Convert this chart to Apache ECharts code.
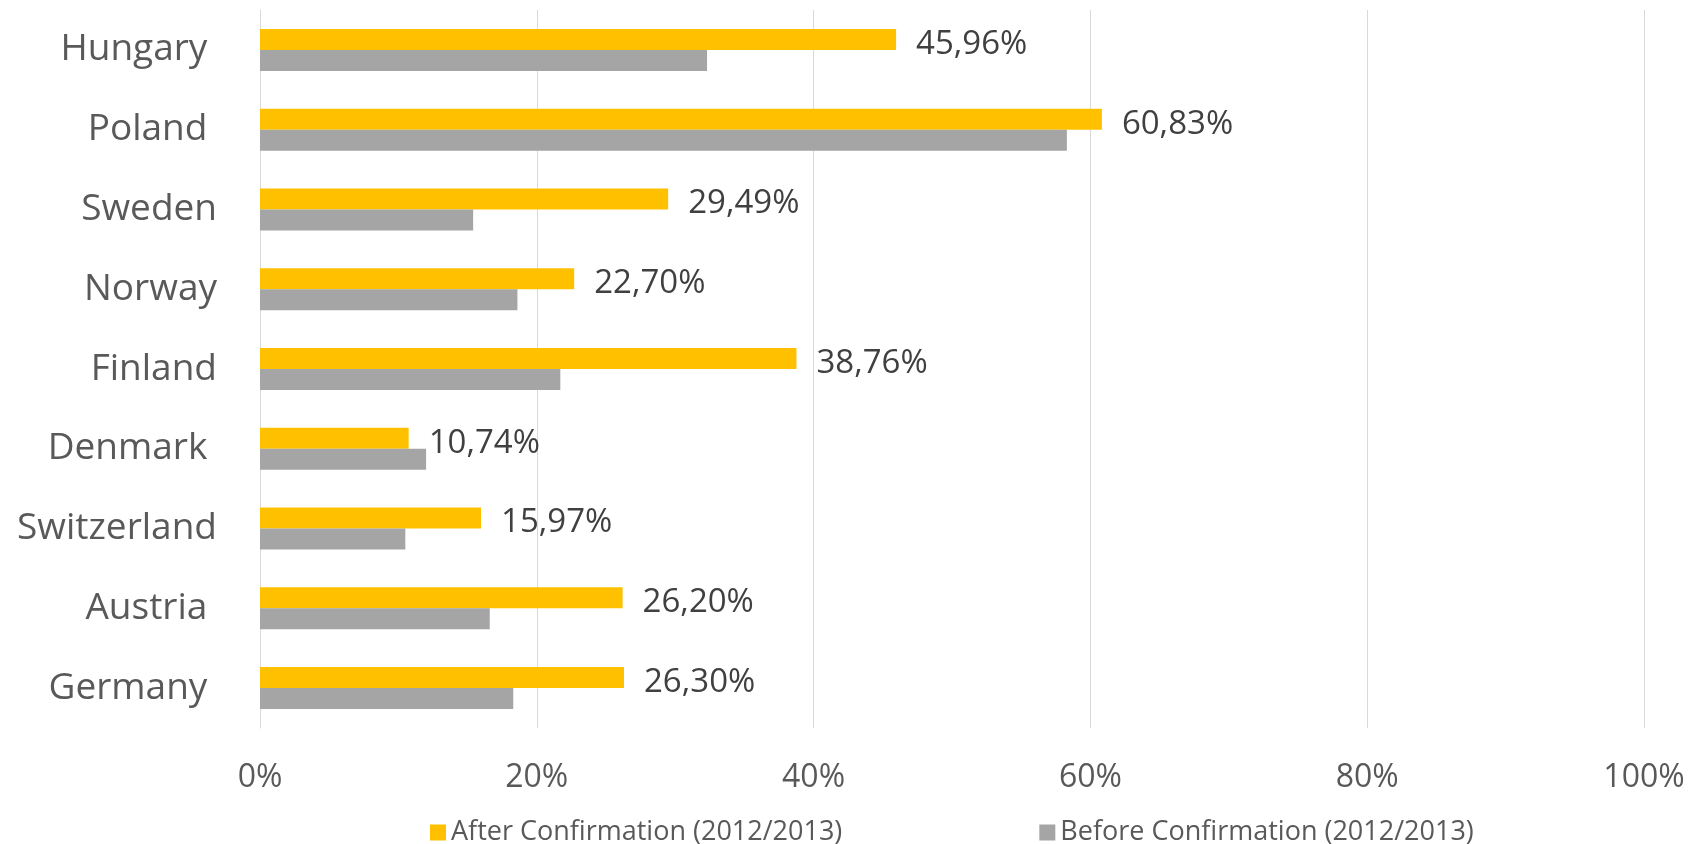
<!DOCTYPE html>
<html>
<head>
<meta charset="utf-8">
<script src="https://cdn.jsdelivr.net/npm/echarts@6/dist/echarts.min.js"></script>
<style>
html,body{margin:0;padding:0;background:#fff;}
#chart{width:1699px;height:844px;}
</style>
</head>
<body>
<div id="chart"></div>
<script>
var categories = ["Hungary ", "Poland ", "Sweden", "Norway", "Finland", "Denmark ", "Switzerland", "Austria ", "Germany "];
var afterValues = [45.96, 60.83, 29.49, 22.70, 38.76, 10.74, 15.97, 26.20, 26.30];
var beforeValues = [32.3, 58.3, 15.4, 18.6, 21.7, 12.0, 10.5, 16.6, 18.3];
var seriesNames = ["After Confirmation (2012/2013)", "Before Confirmation (2012/2013)"];
var xTicks = [0, 20, 40, 60, 80, 100];

var FONT = "Open Sans";
var chart = echarts.init(document.getElementById('chart'), null, {renderer: 'canvas'});
chart.setOption({
  animation: false,
  backgroundColor: '#ffffff',
  textStyle: {fontFamily: FONT},
  grid: {left: 260, right: 55, top: 10, bottom: 116, containLabel: false},
  legend: {
    left: 425, top: 814,
    itemWidth: 16, itemHeight: 16, itemGap: 197,
    icon: 'rect',
    textStyle: {fontFamily: FONT, fontSize: 27, color: '#595959', padding: [0,0,0,0]},
    data: seriesNames
  },
  xAxis: {
    type: 'value', min: xTicks[0], max: xTicks[xTicks.length-1], interval: 20,
    axisLine: {show: false}, axisTick: {show: false},
    splitLine: {lineStyle: {color: '#D9D9D9', width: 1}},
    axisLabel: {fontFamily: FONT, fontSize: 32, color: '#595959', margin: 34,
      formatter: function(v){ return v + '%'; }}
  },
  yAxis: {
    type: 'category', data: categories, inverse: true,
    axisLine: {show: true, lineStyle: {color: '#D9D9D9'}}, axisTick: {show: false},
    axisLabel: {fontFamily: FONT, fontSize: 37, color: '#595959', margin: 43, padding: [4,0,0,0]}
  },
  series: [
    {
      name: seriesNames[0], type: 'bar', data: afterValues,
      barWidth: 21, barGap: '0%',
      itemStyle: {color: '#FFC000'},
      label: {show: true, position: 'right', distance: 20, fontFamily: FONT, fontSize: 33, color: '#404040',
        offset: [0, 5],
        formatter: function(p){ return p.value.toFixed(2).replace('.', ',') + '%'; }}
    },
    {
      name: seriesNames[1], type: 'bar', data: beforeValues,
      barWidth: 21, barGap: '0%',
      itemStyle: {color: '#A5A5A5'}
    }
  ]
});
</script>
</body>
</html>
